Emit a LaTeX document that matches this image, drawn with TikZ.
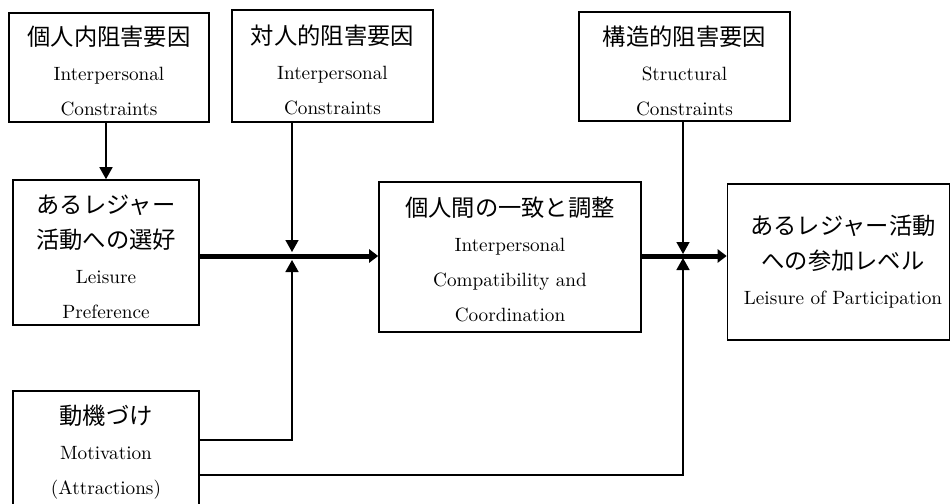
\documentclass[tikz,border=0pt]{standalone}
\usepackage{graphicx}
\usepackage{fontspec}
\newfontfamily\jpfont{Noto Sans CJK JP}
\usetikzlibrary{arrows.meta}
% Japanese line and English line (text-size design, enlarged)
\newcommand\jtext[1]{{\jpfont\fontsize{23.3}{35}\selectfont #1}}
\newcommand\etext[1]{\scalebox{1.92}{\fontsize{10}{12}\selectfont #1}}
\begin{document}
\begin{tikzpicture}[x=1pt,y=-1pt,
  frame/.style={draw, line width=1.6pt, inner sep=0pt},
  words/.style={align=center, inner sep=0pt, font=\fontsize{19}{35}\selectfont},
  thinarr/.style={line width=1.6pt, -{Triangle[length=12pt,width=13pt]}},
  thickarr/.style={line width=5pt, -{Triangle[length=9pt,width=13pt]}}]
\useasboundingbox (0,0) rectangle (952,503);
\clip (0,0) rectangle (952,503);
\fill[white] (0,0) rectangle (952,503);

% boxes
\node[frame, minimum width=200, minimum height=109] (box1) at (109,67.5) {};
\node[frame, minimum width=201, minimum height=112] (box2) at (332.5,66) {};
\node[frame, minimum width=211, minimum height=109] (box5) at (684.5,66.5) {};
\node[frame, minimum width=186, minimum height=145] (box3) at (106,252.5) {};
\node[frame, minimum width=262, minimum height=150] (box4) at (510,257) {};
\node[frame, minimum width=222, minimum height=156] (box6) at (838.5,262) {};
\node[frame, minimum width=186, minimum height=120] (box7) at (106,451) {};

% box texts
\node[words] (t1) at (109,71) {\jtext{個人内阻害要因}\\\etext{Interpersonal}\\\etext{Constraints}};
\node[words] (t2) at (332.5,69.5) {\jtext{対人的阻害要因}\\\etext{Interpersonal}\\\etext{Constraints}};
\node[words] (t5) at (684.5,71) {\jtext{構造的阻害要因}\\\etext{Structural}\\\etext{Constraints}};
\node[words] (t3) at (106,257) {\jtext{あるレジャー}\\\jtext{活動への選好}\\\etext{Leisure}\\\etext{Preference}};
\node[words] (t4) at (510,259) {\jtext{個人間の一致と調整}\\\etext{Interpersonal}\\\etext{Compatibility and}\\\etext{Coordination}};
\node[words] (t6) at (843,262) {\jtext{あるレジャー活動}\\\jtext{への参加レベル}\\\etext{Leisure of Participation}};
\node[words] (t7) at (106,452) {\jtext{動機づけ}\\\etext{Motivation}\\\etext{(Attractions)}};

% junctions on the main flow
\coordinate (j1) at (292,256);
\coordinate (j2) at (683,256);

% connectors
\draw[thinarr] (box1.south -| box3.north) -- (box3.north);
\draw[thinarr] (box2.south -| j1) -- ([yshift=4pt]j1);
\draw[thinarr] ([yshift=11pt]box7.east) -| ([yshift=-4pt]j1);
\draw[thinarr] (box5.south -| j2) -- ([yshift=2pt]j2);
\draw[thinarr] ([yshift=-24pt]box7.east) -| ([yshift=-2pt]j2);
\draw[thickarr] (j1 -| box3.east) -- (j1 -| box4.west);
\draw[thickarr] (j2 -| box4.east) -- (j2 -| box6.west);
\end{tikzpicture}
\end{document}
